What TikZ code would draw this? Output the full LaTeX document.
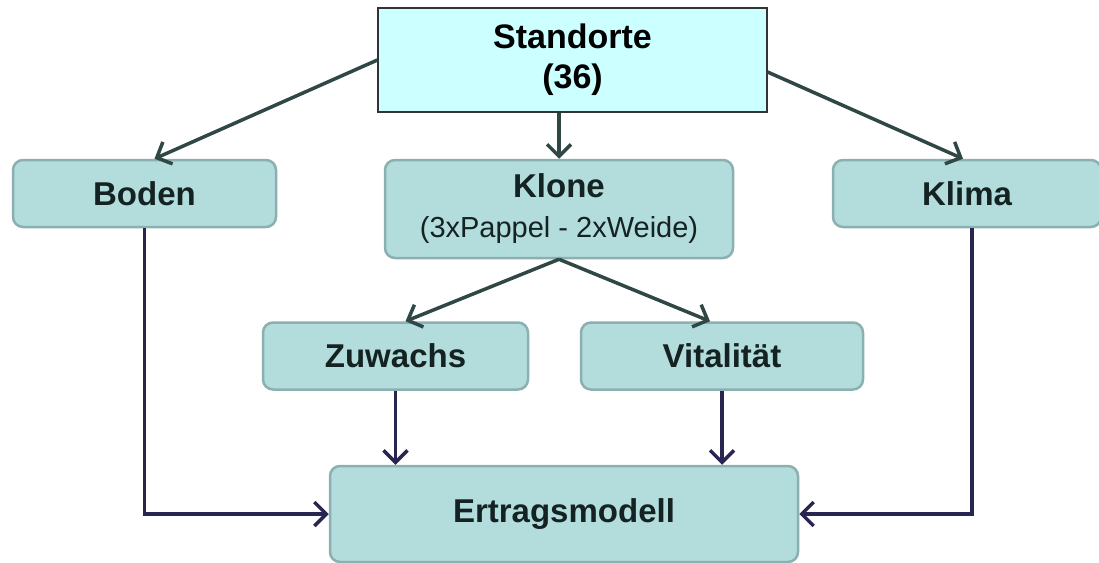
\documentclass[tikz,border=0pt]{standalone}
\usepackage{fontspec}
\setmainfont{Liberation Sans}
\usetikzlibrary{arrows.meta}
\definecolor{standfill}{HTML}{CCFFFF}
\definecolor{boxfill}{HTML}{B3DCDD}
\definecolor{boxline}{HTML}{8CB0B0}
\definecolor{boxtext}{HTML}{142222}
\definecolor{upline}{HTML}{2F4745}
\definecolor{lowline}{HTML}{262650}
\begin{document}
\begin{tikzpicture}[x=1pt,y=-1pt,
    box/.style={rounded corners=10pt,draw=boxline,line width=2.5pt,fill=boxfill,
      inner sep=0pt,align=center,text=boxtext,font=\fontsize{33}{40}\selectfont\bfseries},
    uparrow/.style={draw=upline,line width=3.5pt,-{Straight Barb[length=12pt,width=24pt]}},
    lowarrow/.style={draw=lowline,line width=3.5pt,-{Straight Barb[length=12pt,width=24pt]}}]
    \useasboundingbox (0,0) rectangle (1099,562);
    \fill[white] (0,0) rectangle (1099,562);
    \node (stand) at (572.5,60) [draw=black!80,line width=1.2pt,fill=standfill,inner sep=0pt,
        minimum width=389,minimum height=104,align=center,
        font=\fontsize{34}{40}\selectfont\bfseries] {Standorte\\(36)};
    \node[box,minimum width=263,minimum height=67] (boden) at (144.5,193.5) {Boden};
    \node[box,minimum width=348,minimum height=98] (klone) at (559,209)
        {Klone\\[0pt]{\mdseries\fontsize{29}{36}\selectfont(3xPappel - 2xWeide)}};
    \node[box,minimum width=268,minimum height=67] (klima) at (967,193.5) {Klima};
    \node[box,minimum width=265,minimum height=67] (zuwachs) at (395.5,356) {Zuwachs};
    \node[box,minimum width=282,minimum height=67] (vital) at (722,356) {Vitalität};
    \node[box,minimum width=468,minimum height=96] (ertrag) at (564,514) {Ertragsmodell};
    % obere Ebene
    \draw[uparrow] (stand.west) -- ([xshift=10]boden.north);
    \draw[uparrow] ([yshift=-12]stand.east) -- ([xshift=-4]klima.north);
    \draw[uparrow] (stand.south -| klone.north) -- (klone.north);
    \draw[uparrow] (klone.south) -- ([xshift=10]zuwachs.north);
    \draw[uparrow] (klone.south) -- ([xshift=-12]vital.north);
    % untere Ebene
    \draw[lowarrow] (zuwachs.south) -- (zuwachs.south |- ertrag.north);
    \draw[lowarrow] (vital.south) -- (vital.south |- ertrag.north);
    \draw[lowarrow] (boden.south) |- (ertrag.west);
    \draw[lowarrow] ([xshift=5]klima.south) |- (ertrag.east);
\end{tikzpicture}
\end{document}
